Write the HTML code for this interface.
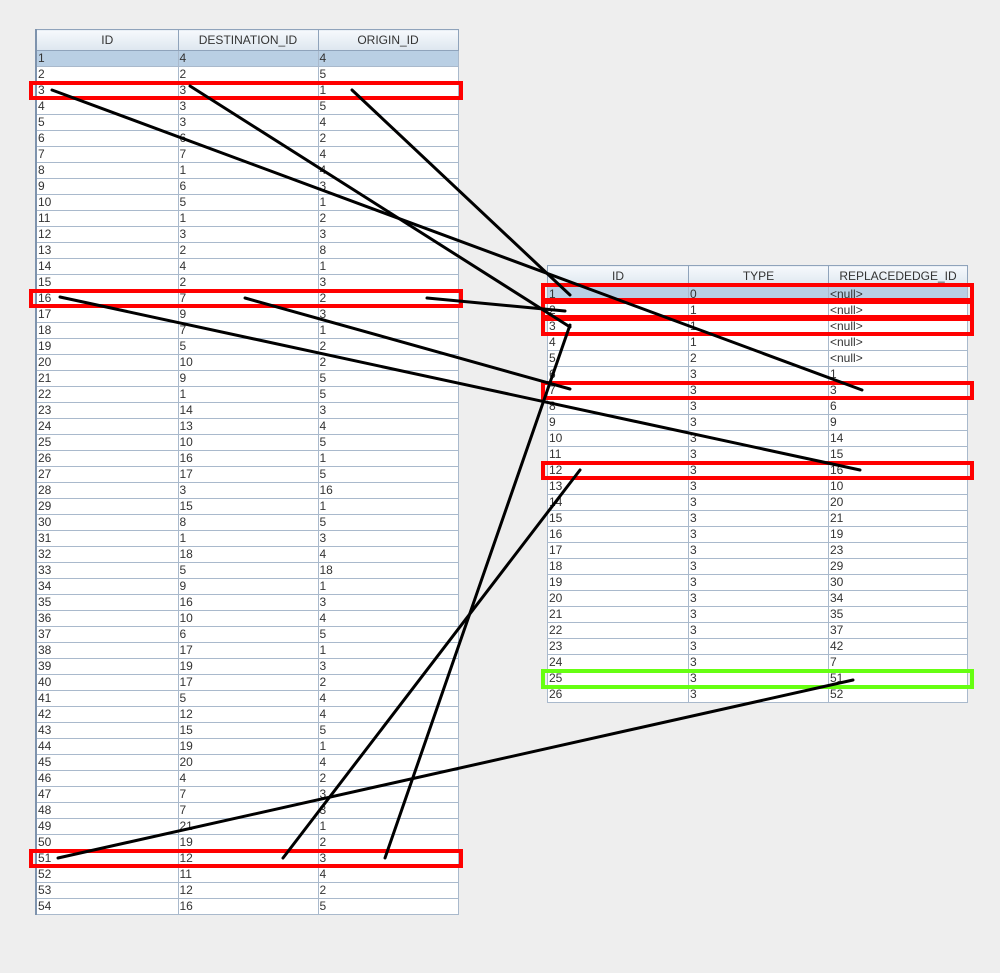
<!DOCTYPE html>
<html><head><meta charset="utf-8"><style>
body{margin:0;width:1000px;height:973px;background:#eeeeee;position:relative;overflow:hidden;font-family:"Liberation Sans",sans-serif;}
table{position:absolute;border-collapse:collapse;table-layout:fixed;font-size:12px;color:#333;background:#fff;}
td{border:1px solid #a9b9cc;height:15px;padding:0 0 0 1px;line-height:15px;white-space:nowrap;overflow:hidden;}
th{height:20px;border:1px solid #8fa3bb;font-weight:normal;font-size:12px;line-height:15px;color:#333;background:linear-gradient(#f6f9fc,#dde6ef);padding:0;}
tr.sel td{background:#b9cfe4;}
.box{position:absolute;border:4px solid #f00;box-sizing:border-box;}
</style></head><body>
<table id="L" style="left:35px;top:29px;width:422px;border-left:2px solid #7e93ad">
<colgroup><col style="width:142px"><col style="width:140px"><col style="width:140px"></colgroup>
<tr><th>ID</th><th>DESTINATION_ID</th><th>ORIGIN_ID</th></tr>
</table>
<table id="R" style="left:547px;top:265px;width:420px">
<colgroup><col style="width:141px"><col style="width:140px"><col style="width:139px"></colgroup>
<tr><th>ID</th><th>TYPE</th><th>REPLACEDEDGE_ID</th></tr>
</table>
<script>
var L="4 4;2 5;3 1;3 5;3 4;6 2;7 4;1 4;6 3;5 1;1 2;3 3;2 8;4 1;2 3;7 2;9 3;7 1;5 2;10 2;9 5;1 5;14 3;13 4;10 5;16 1;17 5;3 16;15 1;8 5;1 3;18 4;5 18;9 1;16 3;10 4;6 5;17 1;19 3;17 2;5 4;12 4;15 5;19 1;20 4;4 2;7 3;7 3;21 1;19 2;12 3;11 4;12 2;16 5".split(";");
var h="";L.forEach(function(r,i){var c=r.split(" ");h+='<tr'+(i==0?' class="sel"':'')+'><td>'+(i+1)+'</td><td>'+c[0]+'</td><td>'+c[1]+'</td></tr>';});
document.getElementById("L").insertAdjacentHTML("beforeend",h);
var R="0 <null>;1 <null>;1 <null>;1 <null>;2 <null>;3 1;3 3;3 6;3 9;3 14;3 15;3 16;3 10;3 20;3 21;3 19;3 23;3 29;3 30;3 34;3 35;3 37;3 42;3 7;3 51;3 52".split(";");
h="";R.forEach(function(r,i){var c=r.split(" ");h+='<tr'+(i==0?' class="sel"':'')+'><td>'+(i+1)+'</td><td>'+c[0]+'</td><td>'+c[1].replace(/</g,"&lt;").replace(/>/g,"&gt;")+'</td></tr>';});
document.getElementById("R").insertAdjacentHTML("beforeend",h);
</script>
<div class="box" style="left:29px;top:81px;width:434px;height:19px"></div>
<div class="box" style="left:29px;top:289px;width:434px;height:19px"></div>
<div class="box" style="left:29px;top:849px;width:434px;height:19px"></div>
<div class="box" style="left:541px;top:283px;width:433px;height:19px"></div>
<div class="box" style="left:541px;top:300px;width:433px;height:19px"></div>
<div class="box" style="left:541px;top:317px;width:433px;height:19px"></div>
<div class="box" style="left:541px;top:381px;width:433px;height:19px"></div>
<div class="box" style="left:541px;top:461px;width:433px;height:19px"></div>
<div class="box" style="left:541px;top:669px;width:433px;height:20px;border-color:#66ff11"></div>
<svg style="position:absolute;left:0;top:0" width="1000" height="973" stroke="#000" stroke-width="3" stroke-linecap="round">
<line x1="52" y1="90" x2="862" y2="390"/>
<line x1="190" y1="86" x2="570" y2="327"/>
<line x1="352" y1="90" x2="570" y2="295"/>
<line x1="60" y1="297" x2="860" y2="470"/>
<line x1="245" y1="298" x2="570" y2="389"/>
<line x1="427" y1="298" x2="565" y2="311"/>
<line x1="58" y1="858" x2="853" y2="680"/>
<line x1="283" y1="858" x2="580" y2="470"/>
<line x1="385" y1="858" x2="570" y2="325"/>
</svg>
</body></html>
